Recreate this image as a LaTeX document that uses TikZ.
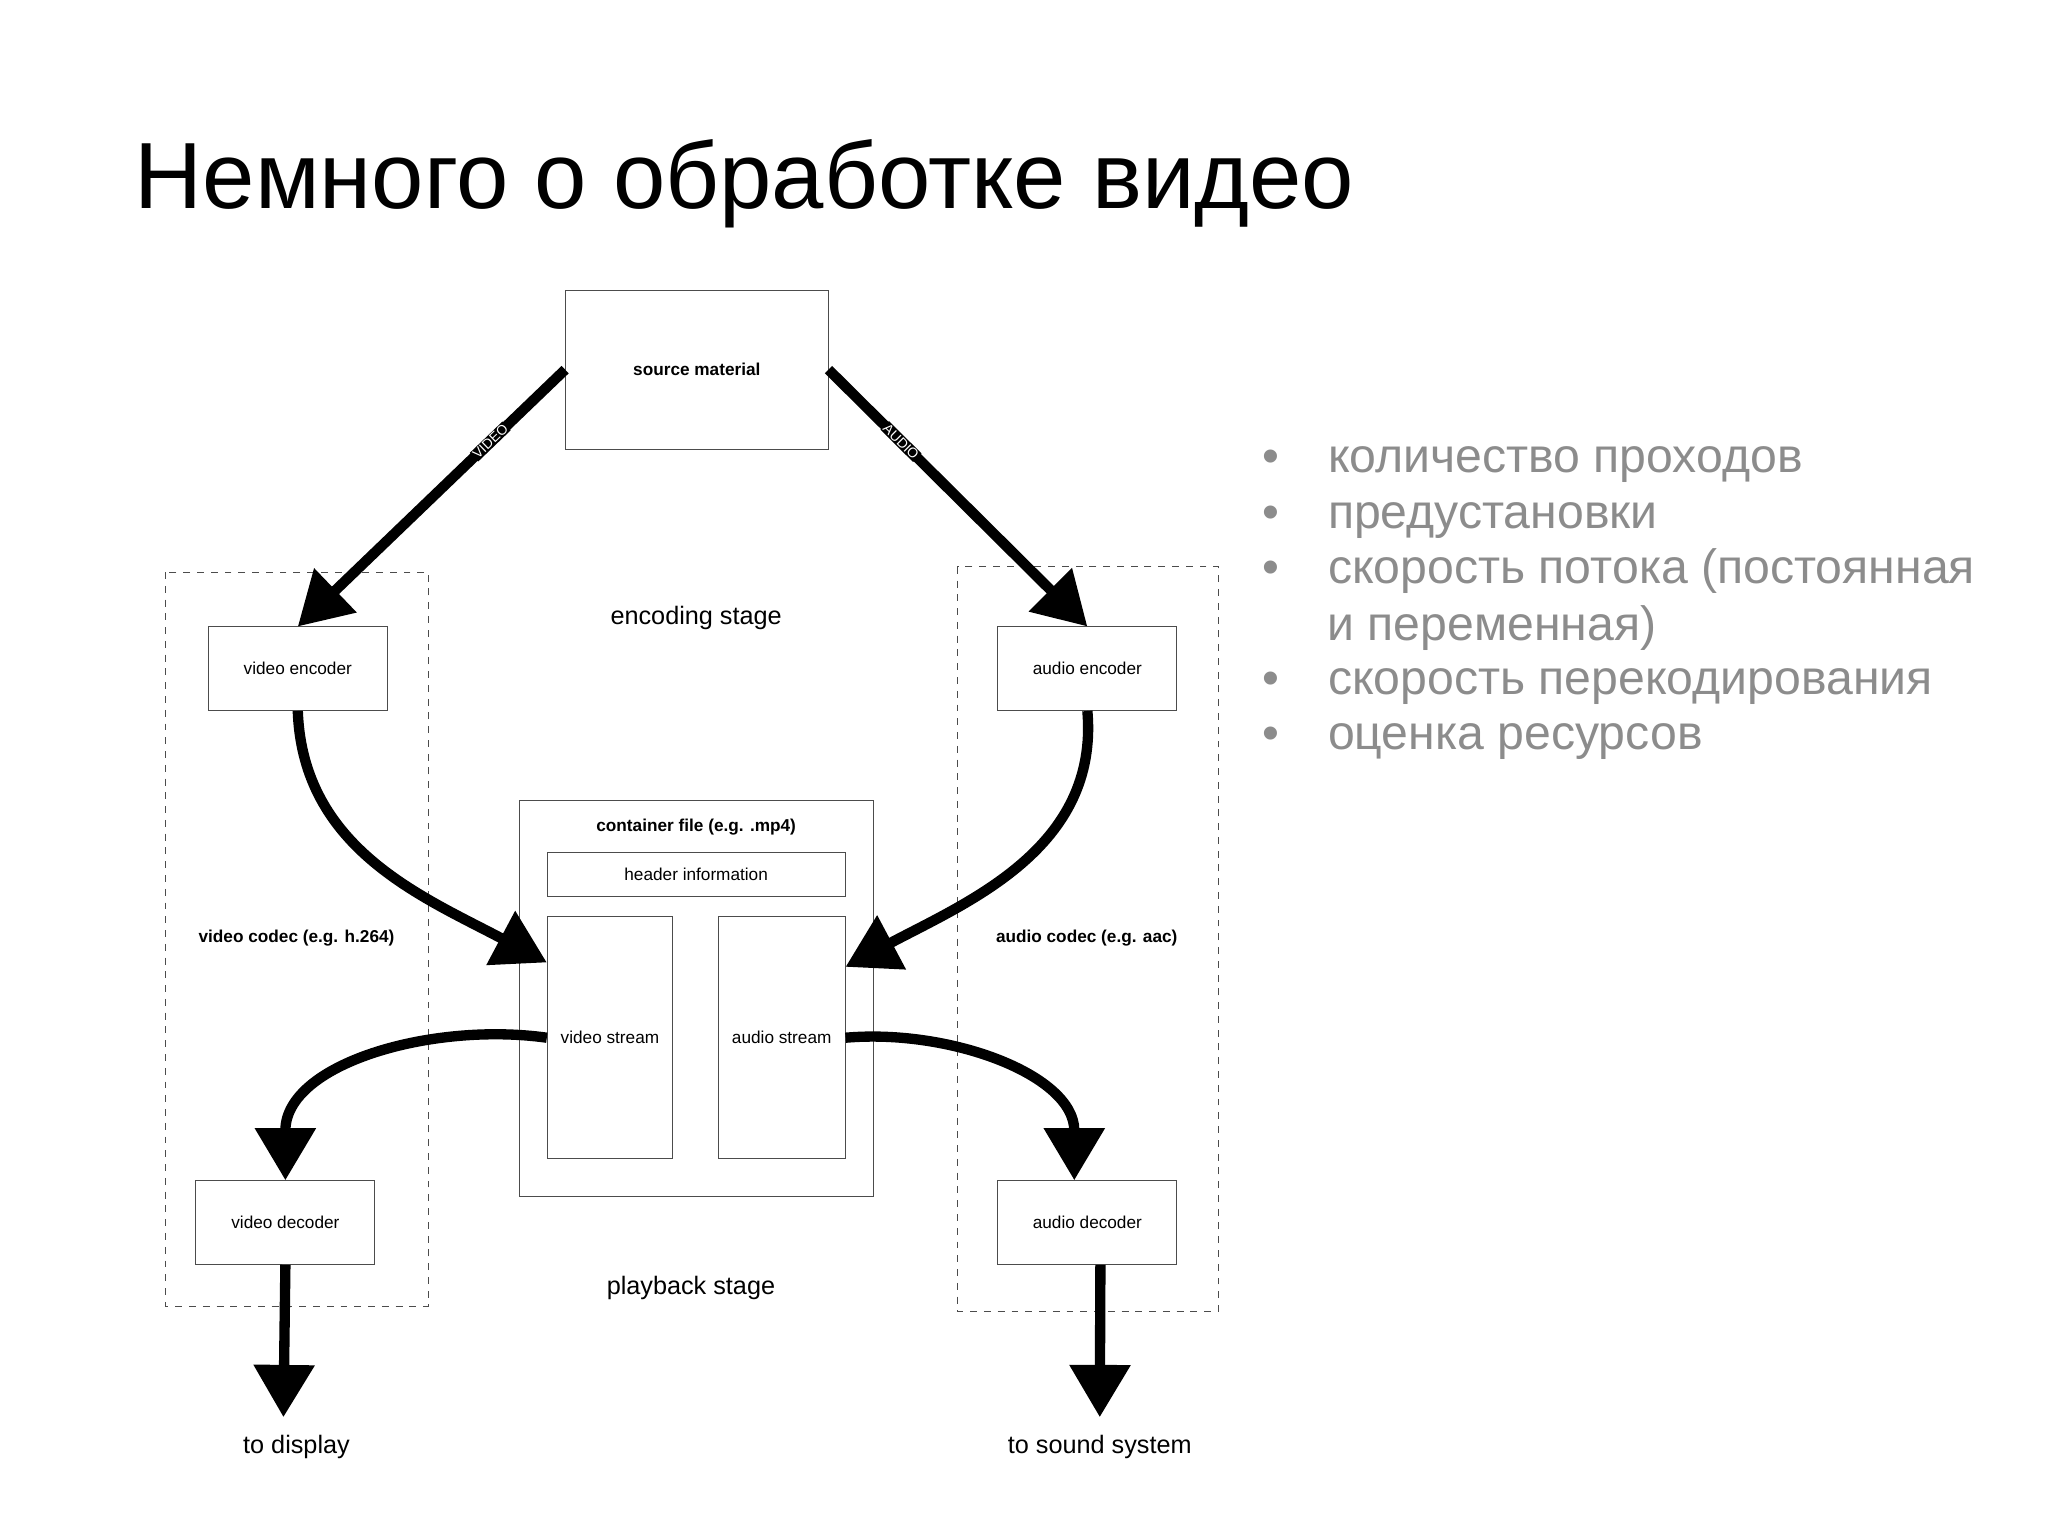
\documentclass[tikz,border=0pt]{standalone}
\usepackage{fontspec}
\setmainfont{Liberation Sans}
\usetikzlibrary{arrows.meta}
\tikzset{
  box/.style={draw=black!70, thin, minimum width=#1, inner sep=0pt},
  small/.style={font=\fontsize{7.5}{9}\selectfont},
  smallb/.style={font=\fontsize{7.5}{9}\selectfont\bfseries},
  stage/.style={font=\fontsize{11}{13}\selectfont},
  flow/.style={line width=4.5pt, -{Triangle[length=0.8cm,width=0.9cm]}},
  flowlbl/.style={sloped, fill=black, text=white, inner sep=0.5pt, font=\fontsize{6}{7}\selectfont},
  codec/.style={draw=black!70, dashed, thin},
}
\begin{document}
\begin{tikzpicture}[x=0.02cm, y=-0.02cm]
			\useasboundingbox (0,0) rectangle (1568,1176);
			% title
			\node[anchor=base west, font=\fontsize{41}{46}\selectfont, inner sep=0pt] (title) at (103,160) {Немного о обработке видео};
			% codec frames
			\draw[codec] (127,438) rectangle (328,1000);
			\draw[codec] (733,434) rectangle (933,1004);
			\node[smallb] (vcodec) at (227,718) {video codec (e.g. h.264)};
			\node[smallb] (acodec) at (832,718) {audio codec (e.g. aac)};
			% boxes
			\node[box, minimum width=4.02cm, minimum height=2.44cm, smallb] (src) at (533.5,283) {source material};
			\node[box, minimum width=2.74cm, minimum height=1.28cm, small] (venc) at (228,512) {video encoder};
			\node[box, minimum width=2.74cm, minimum height=1.28cm, small] (aenc) at (832.5,512) {audio encoder};
			\node[box, minimum width=2.74cm, minimum height=1.28cm, small] (vdec) at (218.5,936) {video decoder};
			\node[box, minimum width=2.74cm, minimum height=1.28cm, small] (adec) at (832.5,936) {audio decoder};
			\node[stage] (enc) at (533,473) {encoding stage};
			\node[stage] (play) at (529,986) {playback stage};
			% container
			\node[box, minimum width=5.42cm, minimum height=6.06cm] (cont) at (533.5,764.5) {};
			\node[smallb] (contlbl) at (533,633) {container file (e.g. .mp4)};
			\node[box, minimum width=4.56cm, minimum height=0.66cm, small] (hdr) at (533,669.5) {header information};
			\node[box, minimum width=1.92cm, minimum height=3.7cm, small] (vstream) at (467,794.5) {video stream};
			\node[box, minimum width=1.94cm, minimum height=3.7cm, small] (astream) at (598.5,794.5) {audio stream};
			% outputs
			\coordinate (disp) at (217,1085);
			\coordinate (snd) at (842,1085);
			\node[stage] (displbl) at (227,1108) {to display};
			\node[stage] (sndlbl) at (842,1108) {to sound system};
			% flows
			\draw[flow] (src.west) -- node[pos=0.28, flowlbl] {VIDEO} (venc.north);
			\draw[flow] (src.east) -- node[pos=0.28, flowlbl] {AUDIO} (aenc.north);
			\draw[flow] (venc.south) to[out=-88, in=152] (vstream.130);
			\draw[flow] (aenc.south) to[out=-85, in=28] (astream.48);
			\draw[flow] (vstream.west) to[out=172, in=90] (vdec.north);
			\draw[flow] (astream.east) to[out=5, in=90] ([xshift=-0.2cm]adec.north);
			\draw[flow] (vdec.south) -- (disp);
			\draw[flow] ([xshift=0.2cm]adec.south) -- (snd);
			% bullets
			\foreach \y/\t in {352/количество проходов, 395/предустановки, 437/скорость потока (постоянная, 522/скорость перекодирования, 564/оценка ресурсов}
				\node[anchor=base west, text=black!45, font=\fontsize{21}{25}\selectfont, inner sep=0pt] at (966,\y+10) {•\hspace{0.75cm}\t};
			\node[anchor=base west, text=black!45, font=\fontsize{21}{25}\selectfont, inner sep=0pt] (cont2) at (1016,490) {и переменная)};
\end{tikzpicture}
\end{document}
